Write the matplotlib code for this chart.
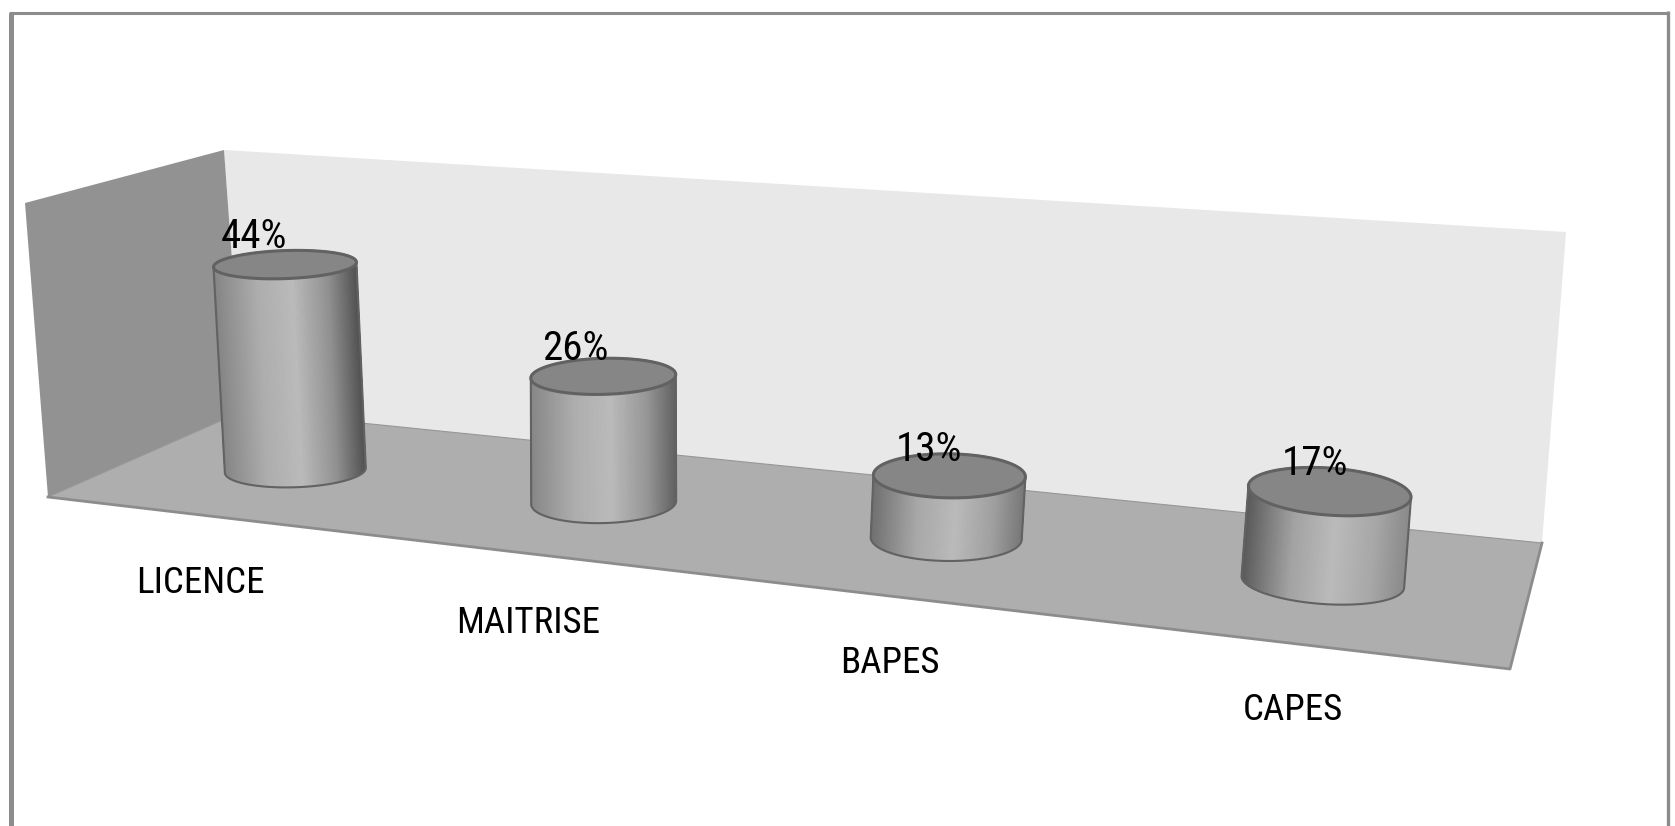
import numpy as np
import matplotlib
matplotlib.use("Agg")
import matplotlib.pyplot as plt
from matplotlib.collections import PolyCollection
from matplotlib.patches import Polygon

categories = ["LICENCE", "MAITRISE", "BAPES", "CAPES"]
values = [44, 26, 13, 17]
value_max = 60

plt.rcParams['font.family'] = ['Roboto Condensed', 'Liberation Sans', 'DejaVu Sans']

# where each cylinder stands along the category axis
bar_pos = [0.53, 1.51, 2.505, 3.5]
label_shift = [0.235, 0.185, 0.123, 0.066]
label_dy = [22, 23, 19, 18]
value_dx = [0, -2, 0, 0]
value_dy = [1, -1, -1, -4]

# cylinder ellipses, they do not follow the camera exactly
ellipse_a_top = [71.5, 72.5, 76, 81.5]
ellipse_a_bottom = [70.5, 72.5, 75.5, 81.5]
ellipse_b_top = [14, 18, 22, 23.5]
ellipse_b_bottom = [17, 20.5, 22.5, 22]
ellipse_tilt = [-2, -1.5, 0.8, 4.2]
lean = [-6, -1, 1, 1]
base_dy = [-3, -3, -3, 1]
top_dy = [1, -1, 1, 2]
grey_left = [133, 135, 112, 90]
grey_right = [80, 96, 119, 138]

# box corners seen in the picture: (category, depth, value) -> pixel
box_world = np.array([[0, 0, 0], [4, 0, 0], [4, 1, 0], [0, 1, 0],
                      [0, 1, value_max], [4, 1, value_max], [0, 0, value_max]], dtype=float)
box_pixel = np.array([[48, 497], [1510, 669], [1542, 543], [220, 422],
                      [224, 150], [1566, 232], [25, 203]], dtype=float)
# the real back corner of the floor, hidden behind the first cylinder
floor_corner = [243, 411]


# fit the 3d chart camera from the box corners
def fitCamera(world, pixel):
    rows = []
    rhs = []
    for (x, y, z), (u, v) in zip(world, pixel):
        rows.append([x, y, z, 1, 0, 0, 0, 0, -u * x, -u * y, -u * z])
        rows.append([0, 0, 0, 0, x, y, z, 1, -v * x, -v * y, -v * z])
        rhs += [u, v]
    sol = np.linalg.lstsq(np.array(rows), np.array(rhs), rcond=None)[0]
    return np.append(sol, 1).reshape(3, 4)


camera = fitCamera(box_world, box_pixel)


def project(x, y, z):
    x, y, z = np.broadcast_arrays(x, y, z)
    pts = np.stack([x, y, z, np.ones(x.shape)], axis=-1) @ camera.T
    return pts[..., :2] / pts[..., 2:]


def ellipse(center, a, b, tilt, theta):
    c, s = np.cos(np.radians(tilt)), np.sin(np.radians(tilt))
    ex = a * np.cos(theta)
    ey = b * np.sin(theta)
    return np.column_stack([center[0] + ex * c - ey * s, center[1] + ex * s + ey * c])


# convex outline of the cylinder body
def hull(points):
    pts = sorted(map(tuple, points))
    out = []
    for seq in (pts, pts[::-1]):
        part = []
        for p in seq:
            while len(part) > 1:
                d1 = np.subtract(part[-1], part[-2])
                d2 = np.subtract(p, part[-1])
                if d1[0] * d2[1] - d1[1] * d2[0] > 0:
                    break
                part.pop()
            part.append(p)
        out += part[:-1]
    return np.array(out)


def shade(theta, left, right):
    frac = (1 + np.cos(theta)) / 2
    peak = 187
    grey = np.interp(frac, [0, 0.3, 0.55, 0.8, 1],
                     [left, left + 0.75 * (peak - left), peak, right + 0.6 * (peak - right), right])
    return np.repeat(grey[:, None] / 255, 3, axis=1)


fig = plt.figure(figsize=(16.75, 8.26), dpi=100)
ax = fig.add_axes([0, 0, 1, 1])
ax.set_xlim(0, 1675)
ax.set_ylim(826, 0)
ax.axis("off")

# frame, the bottom side is cut off
ax.plot([10.5, 10.5], [826, 12.5], color="#8c8c8c", lw=3.6, solid_capstyle="butt")
ax.plot([9, 1669], [12.5, 12.5], color="#8c8c8c", lw=2.2, solid_capstyle="butt")
ax.plot([1667.5, 1667.5], [11, 826], color="#8c8c8c", lw=2.4, solid_capstyle="butt")

# walls and floor
p = box_pixel
ax.add_patch(Polygon([floor_corner, p[2], p[5], p[4]], fc="#e8e8e8", ec="none"))
ax.add_patch(Polygon([p[0], floor_corner, p[4], p[6]], fc="#929292", ec="none"))
ax.add_patch(Polygon([p[0], p[1], p[2], floor_corner], fc="#aeaeae", ec="#969696", lw=0.8))
ax.plot([p[0][0], p[1][0], p[2][0]], [p[0][1], p[1][1], p[2][1]], color="#8c8c8c", lw=2)

theta = np.linspace(0, 2 * np.pi, 241)

for i, (name, val) in enumerate(zip(categories, values)):
    cx = bar_pos[i]
    cy = 0.5
    top_center = project(cx, cy, val) + [lean[i], top_dy[i]]
    base_center = project(cx, cy, 0) + [0, base_dy[i]]
    bottom = ellipse(base_center, ellipse_a_bottom[i], ellipse_b_bottom[i], ellipse_tilt[i], theta)
    top = ellipse(top_center, ellipse_a_top[i], ellipse_b_top[i], ellipse_tilt[i], theta)

    # side of the cylinder, thin strips, only the front half shows
    front = np.where(np.sin(theta[:-1]) >= 0)[0]
    strips = [[bottom[k], bottom[k + 1], top[k + 1], top[k]] for k in front]
    colors = shade(theta[front], grey_left[i], grey_right[i])
    ax.add_patch(Polygon(hull(np.vstack([bottom, top])), fc="#8a8a8a", ec="none"))
    ax.add_collection(PolyCollection(strips, facecolors=colors, edgecolors=colors, linewidths=0.6))

    ax.add_patch(Polygon(hull(np.vstack([bottom, top])), fc="none", ec="#626262", lw=1.5, joinstyle="round"))
    ax.add_patch(Polygon(top, fc="#868686", ec="#626262", lw=2.2))

    # value on top, drawn over the cylinder
    ax.text(top_center[0] - 31 + 5.4 * i + value_dx[i], top_center[1] - 31 + 1.7 * i + 13.5 + value_dy[i], f"{val}%",
            fontsize=29.5, color="#000000", ha="center", va="baseline")

    # category under the floor
    tx, ty = project(cx + label_shift[i], -0.42, 0)
    ax.text(tx, ty + label_dy[i], name, fontsize=26.6, color="#000000", ha="center", va="baseline")

fig.savefig("out.png", dpi=100)
